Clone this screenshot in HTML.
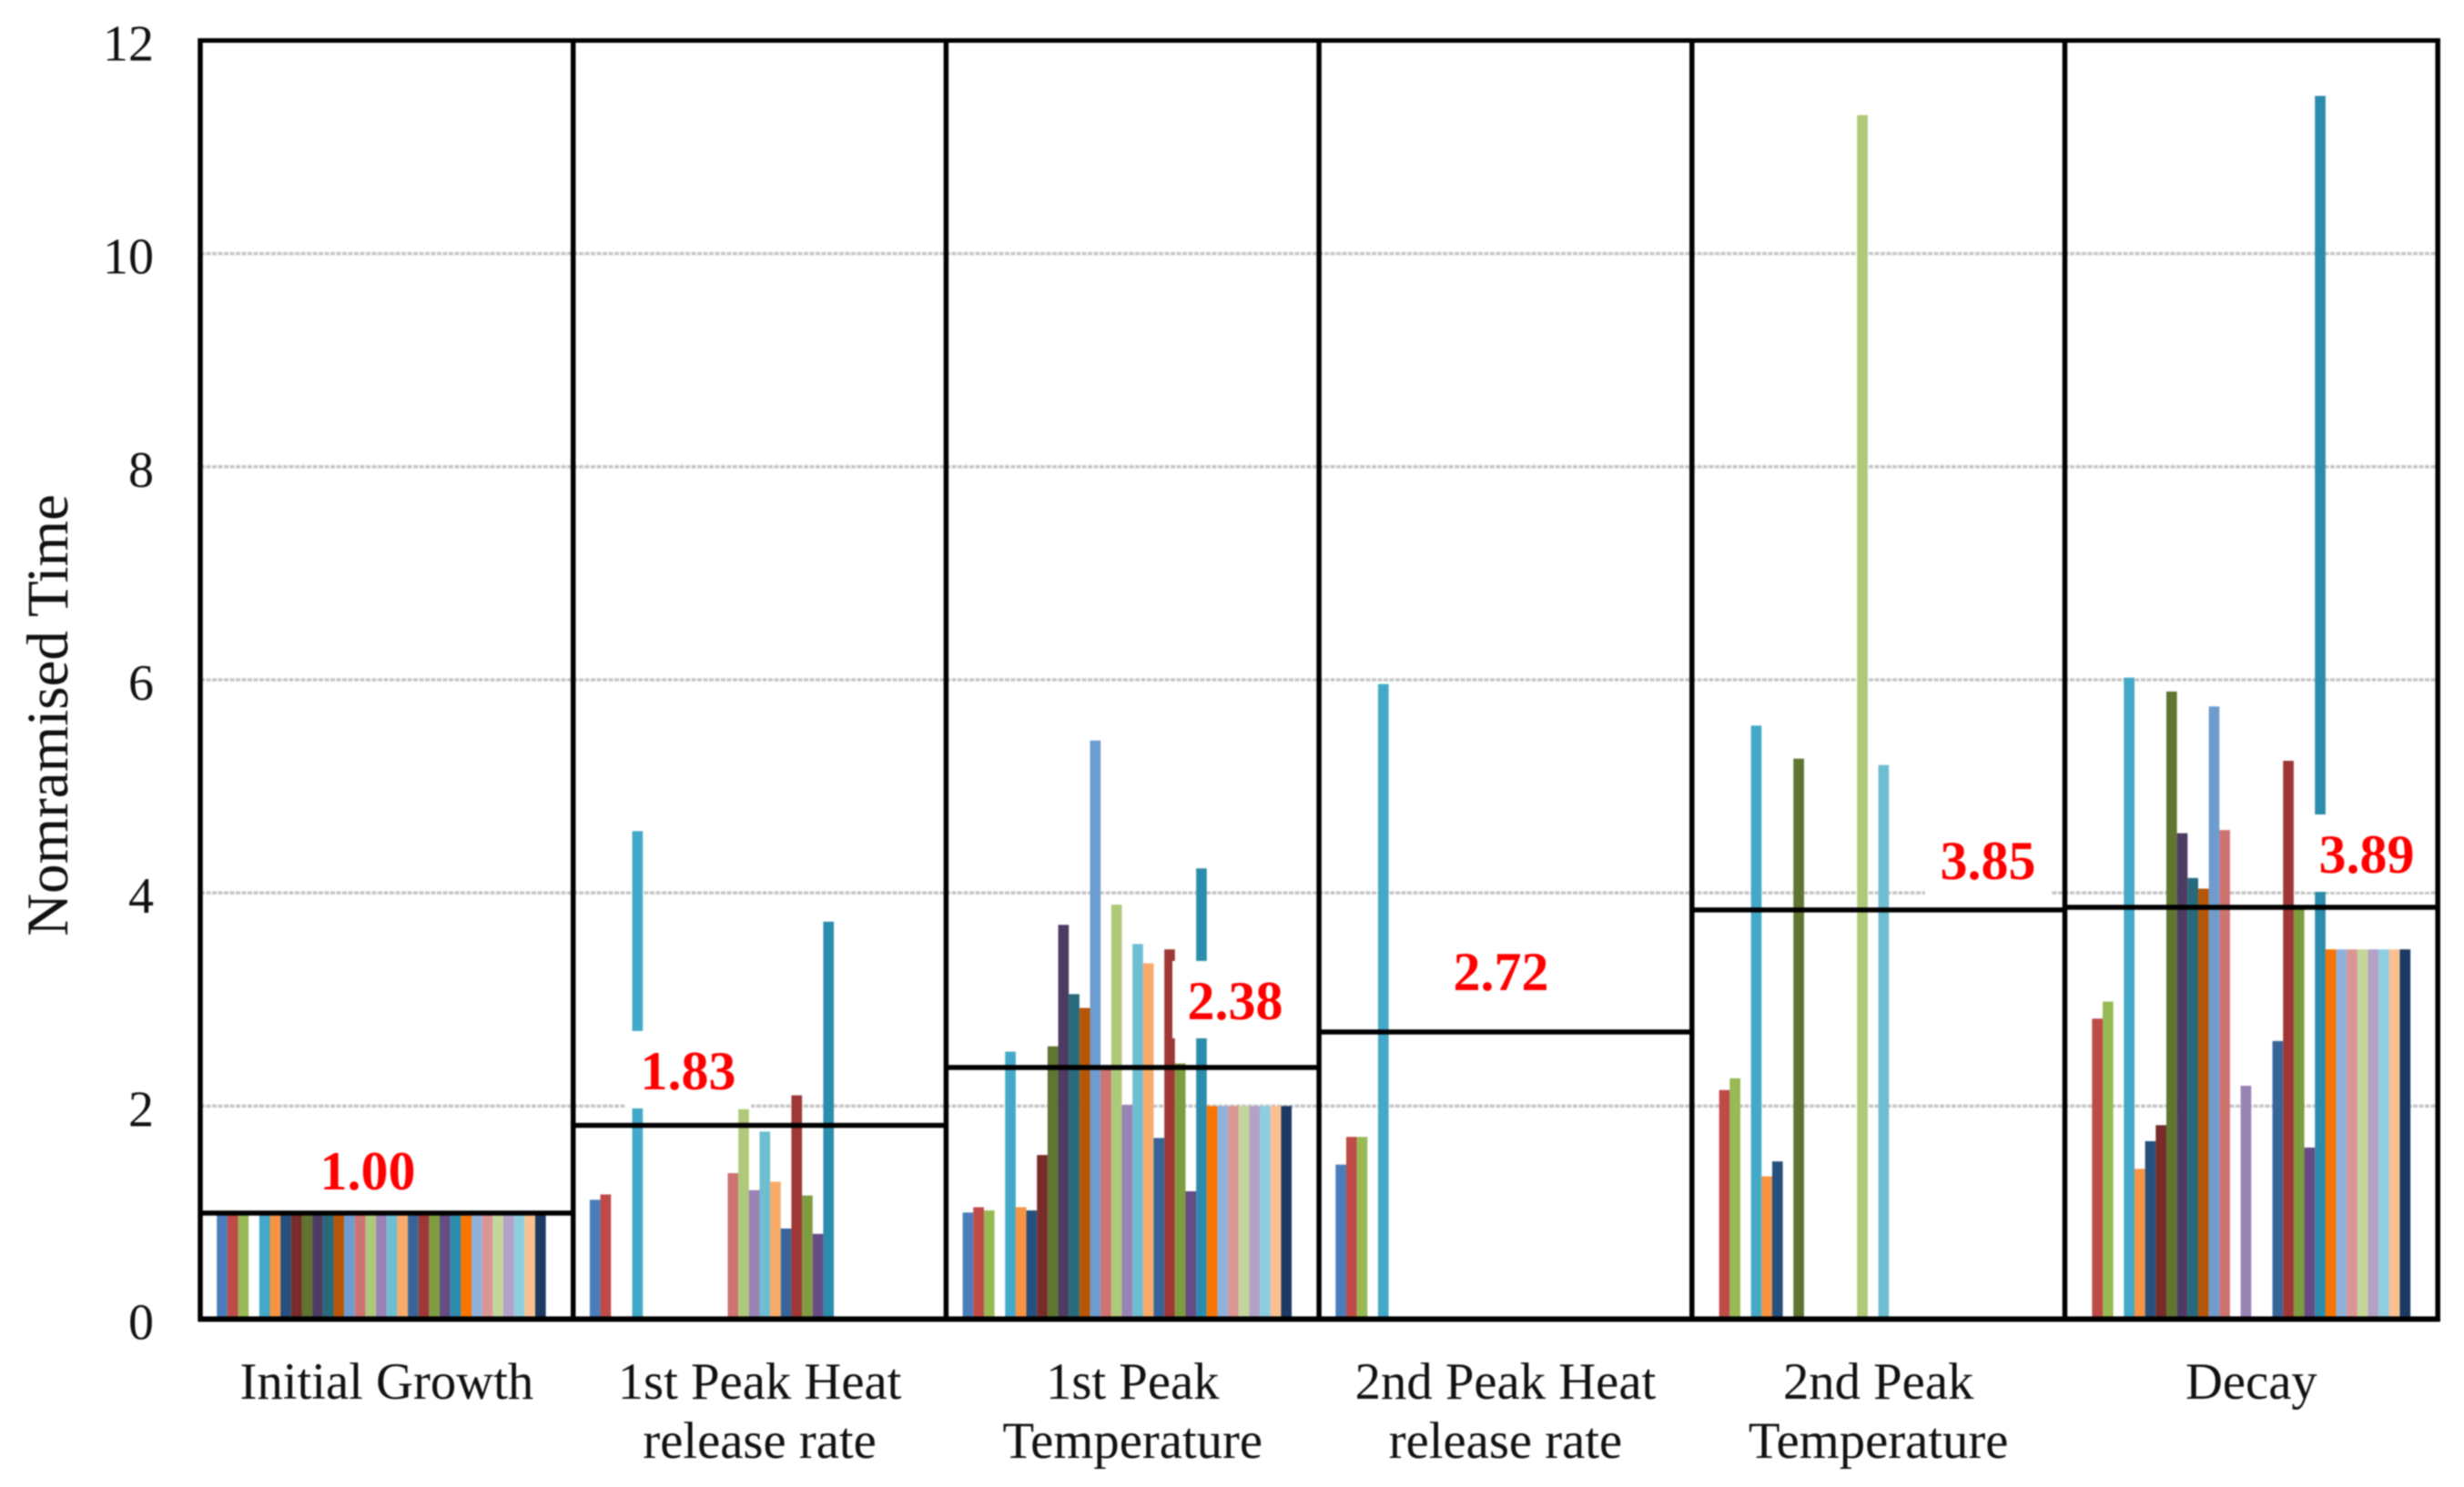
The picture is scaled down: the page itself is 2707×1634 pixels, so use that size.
<!DOCTYPE html>
<html lang="en">
<head>
<meta charset="utf-8">
<title>Nomramised Time by Stage</title>
<style>
  html, body { margin: 0; padding: 0; background: #fff; }
  #chart { display: block; width: 2707px; height: 1634px; filter: blur(0.7px); }
  text { font-family: "Liberation Serif", serif; fill: #111; }
</style>
</head>
<body>
<svg id="chart" xmlns="http://www.w3.org/2000/svg" width="2707" height="1634" viewBox="0 0 2707 1634">
  <rect x="0" y="0" width="2707" height="1634" fill="#ffffff"></rect>
  <g id="gridlines"></g>
  <g id="bars"></g>
  <g id="annotations"></g>
  <g id="frame"></g>
  <g id="y-ticks"></g>
  <g id="x-labels"></g>
  <text transform="translate(74,786) rotate(-90)" text-anchor="middle" font-size="65">Nomramised Time</text>
</svg>
<script>
const categoryLines = [
  ["Initial Growth"],
  ["1st Peak Heat", "release rate"],
  ["1st Peak", "Temperature"],
  ["2nd Peak Heat", "release rate"],
  ["2nd Peak", "Temperature"],
  ["Decay"]
];
const yTickValues = [0, 2, 4, 6, 8, 10, 12];

const initialGrowth = [1,1,1,null,1,1,1,1,1,1,1,1,1,1,1,1,1,1,1,1,1,1,1,1,1,1,1,1,1,1,1];
const firstPeakHeat = [1.12,1.17,null,null,4.58,null,null,null,null,null,null,null,null,1.37,1.97,1.21,1.76,1.29,0.85,2.10,1.16,0.80,3.73,null,null,null,null,null,null,null,null];
const firstPeakTemp = [1.00,1.05,1.02,null,2.51,1.05,1.02,1.54,2.56,3.70,3.05,2.92,5.43,2.36,3.89,2.01,3.52,3.34,1.70,3.47,2.40,1.20,4.23,2,2,2,2,2,2,2,2];
const secondPeakHeat = [1.45,1.71,1.71,null,5.96,null,null,null,null,null,null,null,null,null,null,null,null,null,null,null,null,null,null,null,null,null,null,null,null,null,null];
const secondPeakTemp = [null,2.15,2.26,null,5.57,1.34,1.48,null,5.26,null,null,null,null,null,11.30,null,5.20,null,null,null,null,null,null,null,null,null,null,null,null,null,null];
const decay = [null,2.82,2.98,null,6.02,1.41,1.67,1.82,5.89,4.56,4.14,4.04,5.75,4.59,null,2.19,null,null,2.61,5.24,3.85,1.61,11.48,3.47,3.47,3.47,3.47,3.47,3.47,3.47,3.47];
const categorySeries = [initialGrowth, firstPeakHeat, firstPeakTemp, secondPeakHeat, secondPeakTemp, decay];

const meanValues = [0.995, 1.818, 2.362, 2.695, 3.84, 3.865];
const meanLabels = ["1.00", "1.83", "2.38", "2.72", "3.85", "3.89"];

const seriesColors = ["#4a7ebb","#be4b48","#98b954","#7d5fa0","#44a9c8","#f79444","#26507d","#772c2a","#5f7530","#4d3b62","#276a7c","#b65708","#6f9ccf","#cd7371","#afc97a","#9983b5","#6fbdd1","#f9ab6b","#376599","#9e3735","#7e9d40","#664b85","#2c8cab","#f97400","#8fb2dc","#d99694","#c3d69b","#b2a2c7","#8fcde0","#fac08f","#1c3a63"];
const labelOffsetX = [184, 126.3, 317.6, 199.9, 325.2, 331.5];
const labelOffsetY = [26, 39.7, 53, 46, 34, 38];

const SVG_NS = "http://www.w3.org/2000/svg";
const plotLeft = 220, bandWidth = 409.7, plotTop = 44.5, plotBottom = 1449.5;
const barsStart = 18.2, barWidth = 11.66, yMax = 12;

function yScale(v) { return plotBottom - (v / yMax) * (plotBottom - plotTop); }
function bandLeft(c) { return plotLeft + bandWidth * c; }
function barLeft(c, s) { return bandLeft(c) + barsStart + barWidth * s; }
function make(tag, attrs, parent, text) {
  const el = document.createElementNS(SVG_NS, tag);
  for (const k in attrs) el.setAttribute(k, attrs[k]);
  if (text !== undefined) el.textContent = text;
  parent.appendChild(el);
  return el;
}

const gridG = document.getElementById("gridlines");
const barsG = document.getElementById("bars");
const annG = document.getElementById("annotations");
const frameG = document.getElementById("frame");
const tickG = document.getElementById("y-ticks");
const xG = document.getElementById("x-labels");
const plotRight = bandLeft(categoryLines.length);

yTickValues.forEach(function (t) {
  if (t !== 0 && t !== yMax) {
    const g = make("line", { x1: plotLeft, x2: plotRight, y1: yScale(t), y2: yScale(t), stroke: "#c6c6c6", "stroke-width": 3.5, "stroke-dasharray": "5 1.5" }, gridG);
    
    
  }
  const lab = make("text", { x: 169, y: yScale(t) + 22, "text-anchor": "end", "font-size": 56 }, tickG, String(t));
  
  
});

categorySeries.forEach(function (values, c) {
  values.forEach(function (v, s) {
    if (v === null) return;
    const top = yScale(v);
    const bar = make("rect", { x: barLeft(c, s), y: top, width: barWidth, height: yScale(0) - top, fill: seriesColors[s] }, barsG);
    
    
  });
});

meanValues.forEach(function (m, c) {
  const yLine = yScale(m);
  const cx = bandLeft(c) + labelOffsetX[c];
  const baseline = yLine - labelOffsetY[c];
  const box = make("rect", { x: cx - 69, y: baseline - 64, width: 138, height: 85, fill: "#ffffff" }, annG);
  
  
  const line = make("line", { x1: bandLeft(c), x2: bandLeft(c + 1), y1: yLine, y2: yLine, stroke: "#000000", "stroke-width": 5.5 }, annG);
  
  
  const label = make("text", { x: cx, y: baseline, "text-anchor": "middle", "font-size": 60, "font-weight": "bold", style: "fill:#ff0000" }, annG, meanLabels[c]);
  
  
});

for (let c = 0; c <= categoryLines.length; c++) {
  const sep = make("line", { x1: bandLeft(c), x2: bandLeft(c), y1: plotTop - 2.5, y2: plotBottom + 2.5, stroke: "#000000", "stroke-width": 5.5 }, frameG);
  
  
}
const topEdge = make("line", { x1: plotLeft - 2.5, x2: plotRight + 2.5, y1: plotTop, y2: plotTop, stroke: "#000000", "stroke-width": 5 }, frameG);


const bottomEdge = make("line", { x1: plotLeft - 2.5, x2: plotRight + 2.5, y1: plotBottom, y2: plotBottom, stroke: "#000000", "stroke-width": 6 }, frameG);



categoryLines.forEach(function (lines, c) {
  lines.forEach(function (txt, i) {
    const t = make("text", { x: bandLeft(c) + bandWidth / 2, y: 1537 + 65 * i, "text-anchor": "middle", "font-size": 56.7 }, xG, txt);
    
    
  });
});
</script>
</body>
</html>
